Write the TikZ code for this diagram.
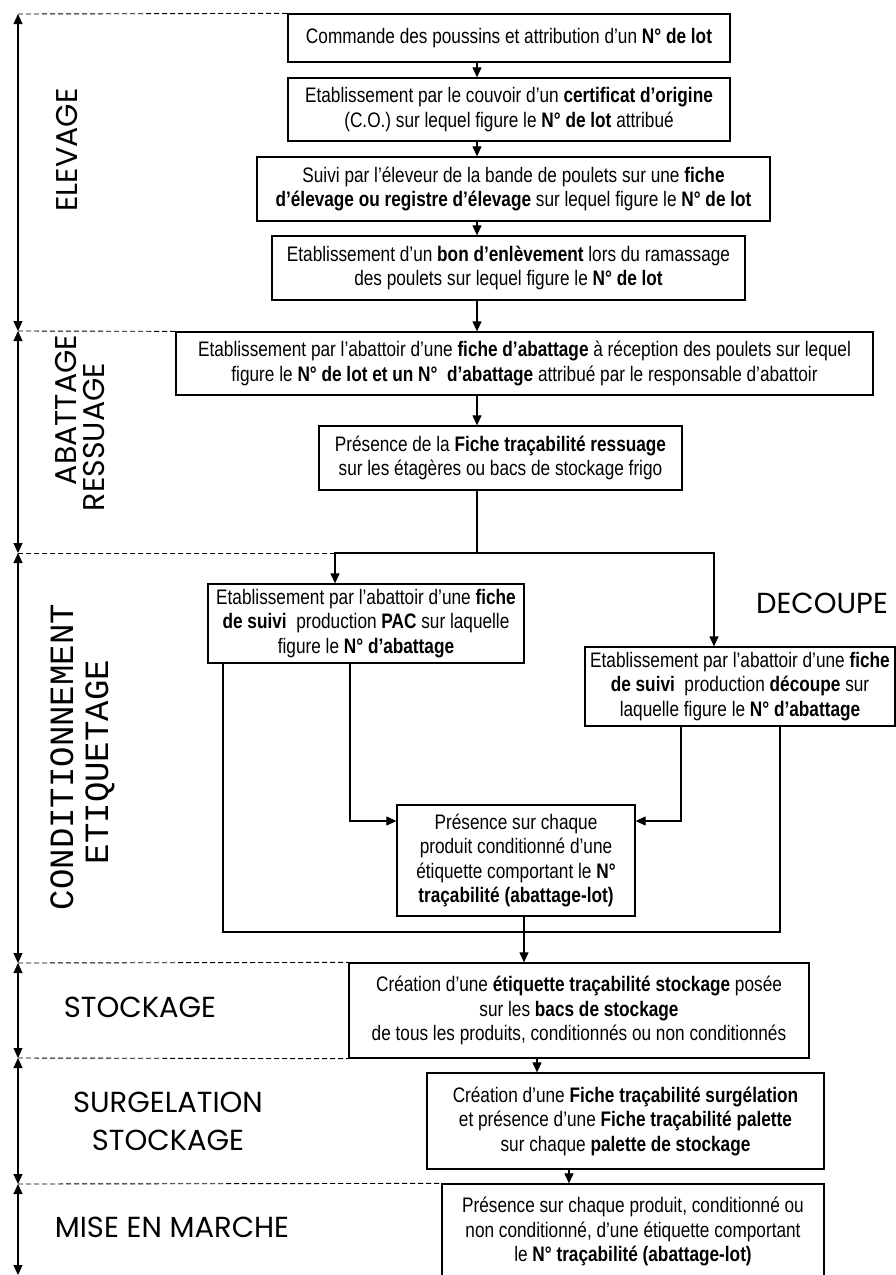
\documentclass[tikz,border=0pt]{standalone}
\usepackage{fontspec}
\setmainfont{Liberation Sans}[FakeStretch=0.82]
\newfontfamily\labfont{Poppins}
\newfontfamily\monolab{Liberation Mono}
\usetikzlibrary{arrows.meta,calc}
\tikzset{
  box/.style={draw, line width=1.3pt, align=center, inner sep=0pt,
    font=\fontsize{21}{24.5}\selectfont},
  conn/.style={line width=1.1pt},
  arr/.style={line width=1.1pt, -{Triangle[length=10pt,width=9pt]}},
  dbl/.style={line width=1.1pt, {Triangle[length=10pt,width=9pt]}-{Triangle[length=10pt,width=9pt]}},
  sep/.style={line width=0.9pt, dash pattern=on 5pt off 3pt},
  vlab/.style={font=\labfont\fontsize{30}{30}\selectfont, rotate=90, inner sep=0pt},
  mlab/.style={font=\monolab\fontsize{34}{34}\selectfont, rotate=90, inner sep=0pt},
  clab/.style={font=\labfont\fontsize{29}{34}\selectfont, align=center, inner sep=0pt}
}
\begin{document}
\begin{tikzpicture}[x=1pt,y=-1pt]
\useasboundingbox (0,0) rectangle (896,1275);
\clip (0,0) rectangle (896,1275);

% boxes
\node[box, minimum width=442pt, minimum height=48pt] (b1) at (509,38)
  {Commande des poussins et attribution d’un \textbf{N° de lot}};
\node[box, minimum width=442pt, minimum height=63pt] (b2) at (509,109.5)
  {Etablissement par le couvoir d’un \textbf{certificat d’origine}\\(C.O.) sur lequel figure le \textbf{N° de lot} attribué};
\node[box, minimum width=513pt, minimum height=64pt] (b3) at (513.5,189)
  {Suivi par l’éleveur de la bande de poulets sur une \textbf{fiche}\\\textbf{d’élevage ou registre d’élevage} sur lequel figure le \textbf{N° de lot}};
\node[box, minimum width=473pt, minimum height=64pt] (b4) at (508.5,268)
  {Etablissement d’un \textbf{bon d’enlèvement} lors du ramassage\\des poulets sur lequel figure le \textbf{N° de lot}};
\node[box, minimum width=697pt, minimum height=63pt] (b5) at (524.5,363.5)
  {Etablissement par l'abattoir d’une \textbf{fiche d’abattage} à réception des poulets sur lequel\\figure le \textbf{N° de lot et un N°\ \ d’abattage} attribué par le responsable d’abattoir};
\node[box, minimum width=363pt, minimum height=64pt] (b6) at (500.5,458)
  {Présence de la \textbf{Fiche traçabilité ressuage}\\sur les étagères ou bacs de stockage frigo};
\node[box, minimum width=316pt, minimum height=79pt] (b7) at (366,623.5)
  {Etablissement par l'abattoir d’une \textbf{fiche}\\\textbf{de suivi}\ \ production \textbf{PAC} sur laquelle\\figure le \textbf{N° d’abattage}};
\node[box, minimum width=310pt, minimum height=79pt] (b8) at (740,686.5)
  {Etablissement par l'abattoir d’une \textbf{fiche}\\\textbf{de suivi}\ \ production \textbf{découpe} sur\\laquelle figure le \textbf{N° d’abattage}};
\node[box, minimum width=238pt, minimum height=111pt] (b9) at (516,860.5)
  {Présence sur chaque\\produit conditionné d'une\\étiquette comportant le \textbf{N°}\\\textbf{traçabilité (abattage-lot)}};
\node[box, minimum width=460pt, minimum height=95pt] (b10) at (579,1010.5)
  {Création d’une \textbf{étiquette traçabilité stockage} posée\\sur les \textbf{bacs de stockage}\\de tous les produits, conditionnés ou non conditionnés};
\node[box, minimum width=397pt, minimum height=96pt] (b11) at (625.5,1121)
  {Création d’une \textbf{Fiche traçabilité surgélation}\\et présence d’une \textbf{Fiche traçabilité palette}\\sur chaque \textbf{palette de stockage}};
\node[box, minimum width=382pt, minimum height=116pt] (b12) at (633,1242)
  {Présence sur chaque produit, conditionné ou\\non conditionné, d’une étiquette comportant\\le \textbf{N° traçabilité (abattage-lot)}\\\mbox{}};

% helper coordinates
\coordinate (x477) at (477,0);
\coordinate (x524) at (524,0);
\coordinate (x537) at (537,0);
\coordinate (x569) at (569,0);
\coordinate (split) at (477,553);
\coordinate (splitL) at (335,553);
\coordinate (splitR) at (714,553);
\coordinate (inL) at (350,821);
\coordinate (inR) at (681,821);
\coordinate (loopL) at (223,932);
\coordinate (loopR) at (780,932);

% main chain
\draw[arr] (b1.south -| x477) -- (b2.north -| x477);
\draw[arr] (b2.south -| x477) -- (b3.north -| x477);
\draw[arr] (b3.south -| x477) -- (b4.north -| x477);
\draw[arr] (b4.south -| x477) -- (b5.north -| x477);
\draw[arr] (b5.south -| x477) -- (b6.north -| x477);
\draw[conn] (b6.south -| split) -- (split);
\draw[arr] (split) -| (b7.north -| splitL);
\draw[arr] (split) -| (b8.north -| splitR);
\draw[arr] (b7.south -| inL) -- (inL) -- (b9.west |- inL);
\draw[arr] (b8.south -| inR) -- (inR) -- (b9.east |- inR);
\draw[conn] (b7.south -| loopL) -- (loopL) -- (loopR) -- (b8.south -| loopR);
\draw[arr] (b9.south -| x524) -- (b10.north -| x524);
\draw[arr] (b10.south -| x537) -- (b11.north -| x537);
\draw[arr] (b11.south -| x569) -- (b12.north -| x569);

% phase separators and arrows
\coordinate (L0) at (18,14);
\coordinate (L1) at (18,331);
\coordinate (L2) at (18,553);
\coordinate (L3) at (18,963);
\coordinate (L4) at (18,1058);
\coordinate (L5) at (18,1184);
\coordinate (L6) at (18,1275);
\draw[sep] (L0) -- (b1.north west);
\draw[sep] (L1) -- (b5.north west);
\draw[sep] (L2) -- (splitL);
\draw[sep] (L3) -- (b10.north west);
\draw[sep] (L4) -- (b10.south west);
\draw[sep] (L5) -- (b12.north west);
\draw[dbl] (L0) -- (L1);
\draw[dbl] (L1) -- (L2);
\draw[dbl] (L2) -- (L3);
\draw[dbl] (L3) -- (L4);
\draw[dbl] (L4) -- (L5);
\draw[dbl] (L5) -- (L6);

% phase labels
\node[vlab] (lElev) at (67,150) {ELEVAGE};
\node[vlab] (lAbat) at (66,410) {ABATTAGE};
\node[vlab] (lRess) at (94,437) {RESSUAGE};
\node[mlab] (lCond) at (62,757) {CONDITIONNEMENT};
\node[mlab] (lEtiq) at (100,762) {ETIQUETAGE};
\node[clab] (lDec) at (822,603) {DECOUPE};
\node[clab] (lStock) at (140,1007) {STOCKAGE};
\node[clab] (lSurg) at (168,1121) {SURGELATION\\[4pt]STOCKAGE};
\node[clab] (lMise) at (172,1227) {MISE EN MARCHE};
\end{tikzpicture}
\end{document}
